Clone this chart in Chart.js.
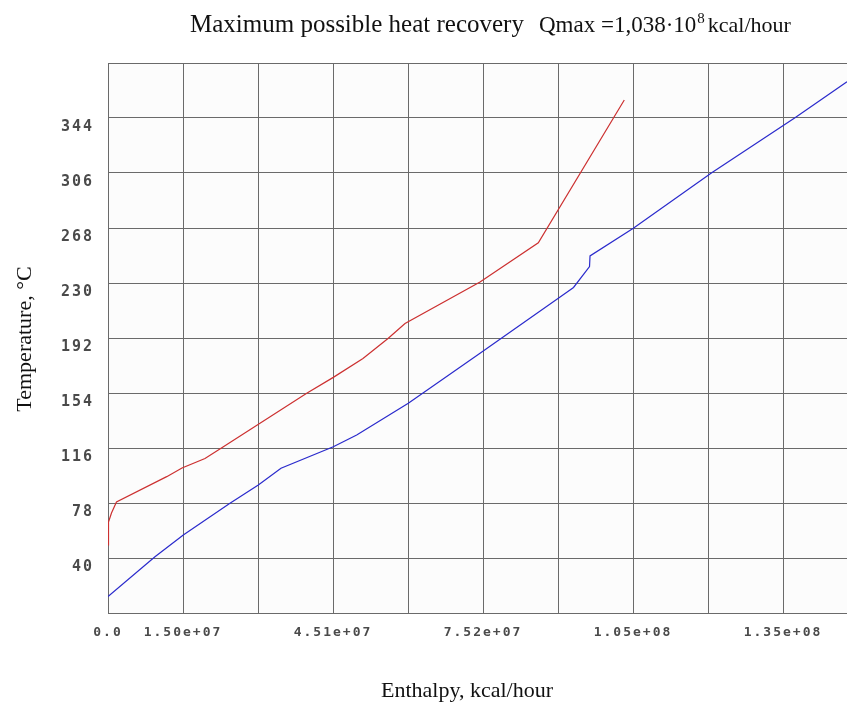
<!DOCTYPE html>
<html>
<head>
<meta charset="utf-8">
<script src="https://cdn.jsdelivr.net/npm/chart.js@4.4.0/dist/chart.umd.min.js"></script>
<style>
  body { margin: 0; background: #ffffff; }
  canvas { display: block; }
</style>
</head>
<body>
<canvas id="grafico" width="847" height="704"></canvas>
<script>
// corrente quente (vermelha) - entalpia em kcal/hour, temperatura em °C
const entalpiaQuente = [0, 100000, 700000, 1700000, 11770000, 14840000, 19450000, 23060000,
  39850000, 45180000, 51130000, 56150000, 59560000, 74600000, 86290000, 103530000];
const temperaturaQuente = [49.0, 64.9, 71.1, 78.7, 96.2, 102.2, 108.7, 116.7,
  153.8, 164.8, 177.8, 191.7, 202.0, 230.7, 257.8, 356.4];

// corrente fria (azul)
const entalpiaFria = [0, 9420000, 15100000, 24460000, 30140000, 34690000, 45180000, 49870000,
  60220000, 74600000, 90300000, 93350000, 96560000, 96660000, 105340000, 121060000, 137760000, 148190000];
const temperaturaFria = [13.3, 40.9, 55.9, 77.8, 90.4, 102.0, 116.9, 125.0,
  146.9, 181.4, 219.4, 226.9, 241.3, 248.7, 267.8, 306.2, 344.2, 369.1];

// grade e rotulos dos eixos
const gradeX = [0, 15040000, 30080000, 45120000, 60160000, 75200000, 90240000, 105280000, 120320000, 135360000];
const rotulosX = ["0.0", "1.50e+07", "", "4.51e+07", "", "7.52e+07", "", "1.05e+08", "", "1.35e+08"];
const gradeY = [2, 40, 78, 116, 154, 192, 230, 268, 306, 344, 382];
const rotulosY = ["", "40", "78", "116", "154", "192", "230", "268", "306", "344", ""];

const titulo = "Maximum possible heat recovery";
const tituloQmax = "Qmax =1,038\u00b710";
const tituloExpoente = "8";
const tituloUnidade = "kcal/hour";
const tituloX = "Enthalpy, kcal/hour";
const tituloY = "Temperature, \u00b0C";

function pontos(xs, ys) {
  return xs.map((x, i) => ({ x: x, y: ys[i] }));
}

const textos = {
  id: "textos",
  beforeDraw(chart) {
    const ctx = chart.ctx;
    const a = chart.chartArea;
    ctx.save();
    ctx.fillStyle = "#fcfcfc";
    ctx.fillRect(a.left, a.top, a.right - a.left, a.bottom - a.top);
    ctx.restore();
    ctx.letterSpacing = "2px";
  },
  afterDraw(chart) {
    const ctx = chart.ctx;
    ctx.letterSpacing = "0px";
    ctx.save();
    ctx.fillStyle = "#111111";
    ctx.textBaseline = "alphabetic";
    ctx.textAlign = "left";
    ctx.font = '25px "Liberation Serif"';
    ctx.fillText(titulo, 190, 32);
    ctx.font = '23px "Liberation Serif"';
    ctx.fillText(tituloQmax, 539, 32);
    let x = 539 + ctx.measureText(tituloQmax).width;
    ctx.font = '15px "Liberation Serif"';
    ctx.fillText(tituloExpoente, x + 1, 23);
    x += ctx.measureText(tituloExpoente).width + 4;
    ctx.font = '22px "Liberation Serif"';
    ctx.fillText(tituloUnidade, x, 32);

    ctx.font = '22px "Liberation Serif"';
    ctx.textAlign = "center";
    ctx.fillText(tituloX, 467, 697);

    ctx.translate(31, 339);
    ctx.rotate(-Math.PI / 2);
    ctx.fillText(tituloY, 0, 0);
    ctx.restore();
  }
};

const corGrade = "#6a6a6a";

const config = {
  type: "scatter",
  data: {
    datasets: [
      {
        label: "quente",
        data: pontos(entalpiaQuente, temperaturaQuente),
        showLine: true,
        borderColor: "#cc3030",
        borderWidth: 1.2,
        pointRadius: 0,
        tension: 0,
      },
      {
        label: "fria",
        data: pontos(entalpiaFria, temperaturaFria),
        showLine: true,
        borderColor: "#2a2acc",
        borderWidth: 1.2,
        pointRadius: 0,
        tension: 0,
      },
    ],
  },
  options: {
    responsive: false,
    animation: false,
    layout: { padding: { top: 63, left: 0, right: 0, bottom: 0 } },
    plugins: {
      legend: { display: false },
      tooltip: { enabled: false },
    },
    scales: {
      x: {
        type: "linear",
        min: 0,
        max: 148190000,
        afterBuildTicks: (scale) => { scale.ticks = gradeX.map((v) => ({ value: v })); },
        afterFit: (scale) => { scale.height = 91; },
        grid: { color: corGrade, lineWidth: 1, drawTicks: false },
        border: { color: corGrade },
        ticks: {
          autoSkip: false,
          maxRotation: 0,
          padding: 12,
          color: "#4a4a4a",
          font: { family: '"DejaVu Sans Mono"', size: 13, weight: "bold" },
          callback: (value, index) => rotulosX[index],
        },
      },
      y: {
        type: "linear",
        min: 2,
        max: 382,
        afterBuildTicks: (scale) => { scale.ticks = gradeY.map((v) => ({ value: v })); },
        afterFit: (scale) => { scale.width = 108; },
        grid: { color: corGrade, lineWidth: 1, drawTicks: false },
        border: { color: corGrade },
        ticks: {
          autoSkip: false,
          padding: 14,
          labelOffset: 9,
          color: "#4a4a4a",
          font: { family: '"DejaVu Sans Mono"', size: 15, weight: "bold" },
          callback: (value, index) => rotulosY[index],
        },
      },
    },
  },
  plugins: [textos],
};

let myChart = new Chart(document.getElementById("grafico"), config);
</script>
</body>
</html>
